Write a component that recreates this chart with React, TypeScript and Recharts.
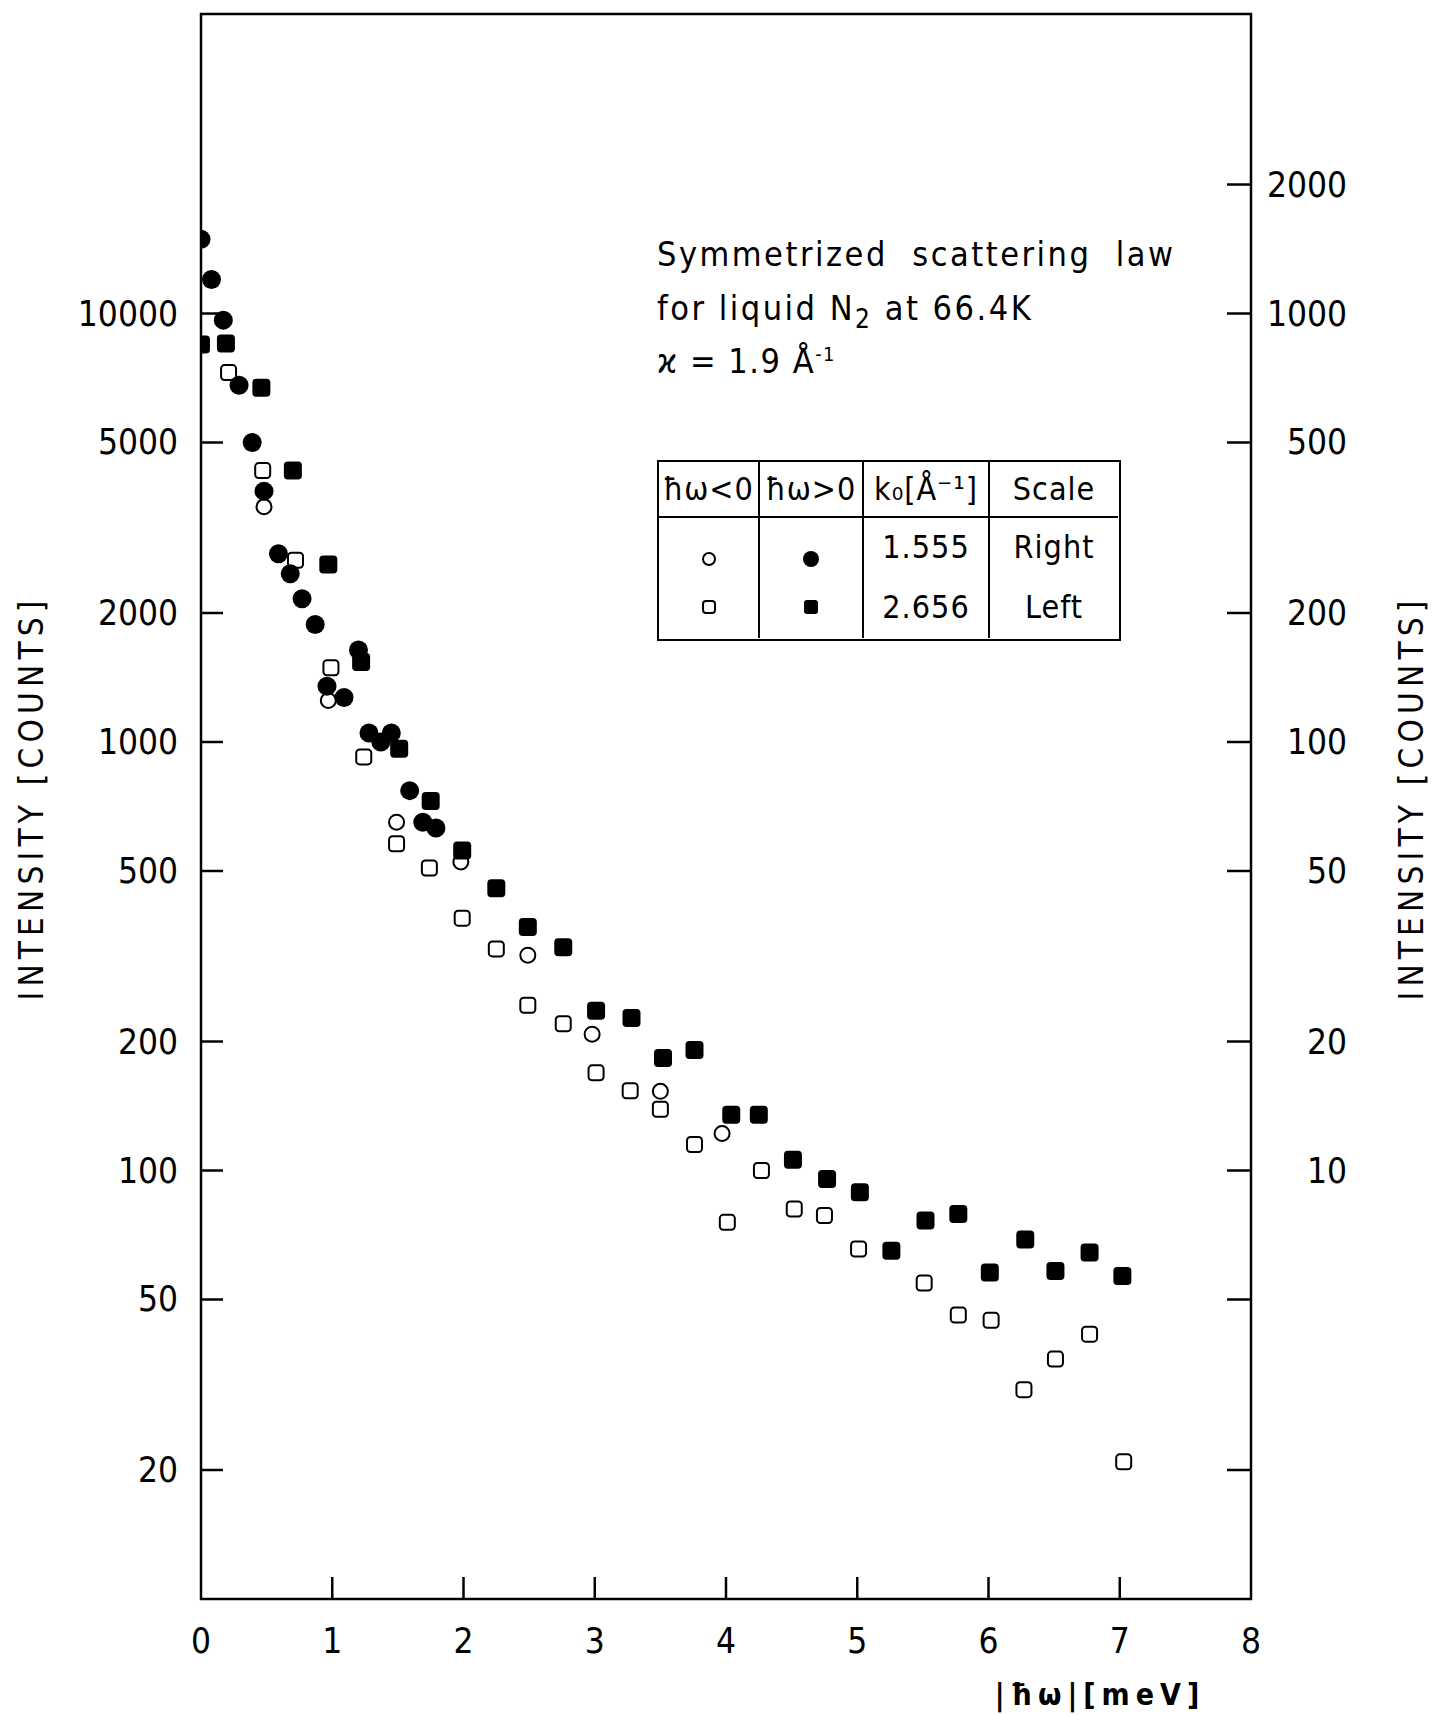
import { ReferenceArea, Scatter, ScatterChart, XAxis, YAxis } from "recharts";

// k0 = 1.555 Å⁻¹, read on the right-hand scale
const gainCircles: [number, number][] = [
  [0, 1490], [0.08, 1200], [0.17, 965], [0.29, 680], [0.39, 500], [0.48, 385],
  [0.59, 275], [0.68, 247], [0.77, 216], [0.87, 188], [0.96, 135], [1.09, 127],
  [1.2, 164], [1.28, 105], [1.37, 100], [1.45, 105], [1.59, 77], [1.69, 65], [1.79, 63],
];
const lossCircles: [number, number][] = [
  [0, 1490], [0.48, 354], [0.97, 125], [1.49, 65], [1.98, 52.5], [2.49, 31.8],
  [2.98, 20.8], [3.5, 15.3], [3.97, 12.2],
];

// k0 = 2.656 Å⁻¹, read on the left-hand scale
const gainSquares: [number, number][] = [
  [0, 8470], [0.19, 8510], [0.46, 6710], [0.7, 4300], [0.97, 2594], [1.22, 1538],
  [1.51, 964], [1.75, 728], [1.99, 558], [2.25, 456], [2.49, 370], [2.76, 332],
  [3.01, 236], [3.28, 227], [3.52, 183], [3.76, 191], [4.04, 135], [4.25, 135],
  [4.51, 106], [4.77, 95.5], [5.02, 89], [5.26, 65], [5.52, 76.4], [5.77, 79.2],
  [6.01, 57.8], [6.28, 69], [6.51, 58.3], [6.77, 64.4], [7.02, 56.7],
];
const lossSquares: [number, number][] = [
  [0, 8470], [0.21, 7280], [0.47, 4300], [0.72, 2655], [0.99, 1490], [1.24, 923],
  [1.49, 579], [1.74, 508], [1.99, 388], [2.25, 329], [2.49, 243], [2.76, 220],
  [3.01, 169], [3.27, 153.5], [3.5, 139], [3.76, 115], [4.01, 75.7], [4.27, 100],
  [4.52, 81.3], [4.75, 78.5], [5.01, 65.6], [5.51, 54.6], [5.77, 46], [6.02, 44.7],
  [6.27, 30.8], [6.51, 36.3], [6.77, 41.5], [7.03, 20.9],
];

const xTicks = [0, 1, 2, 3, 4, 5, 6, 7, 8];
const leftTicks = [20, 50, 100, 200, 500, 1000, 2000, 5000, 10000];
const rightTicks = [2, 5, 10, 20, 50, 100, 200, 500, 1000, 2000];
const rightLabelFrom = 10;

const FONT = '"DejaVu Sans", "Liberation Sans", sans-serif';
const textStyle = { fontStretch: "condensed" as const };

const toPoints = (rows: [number, number][]) => rows.map(([x, y]) => ({ x, y }));

function LeftTick({ x, y, payload }: any) {
  return (
    <g>
      <line x1={x} y1={y} x2={x + 22} y2={y} stroke="#000" strokeWidth={2.5} />
      <text x={x - 23} y={y} textAnchor="end" dominantBaseline="central"
        fontSize={35} fontFamily={FONT} style={textStyle} fill="#000">
        {payload.value}
      </text>
    </g>
  );
}

function RightTick({ x, y, payload }: any) {
  return (
    <g>
      <line x1={x} y1={y} x2={x - 24} y2={y} stroke="#000" strokeWidth={2.5} />
      {payload.value >= rightLabelFrom ? (
        <text x={x + 96} y={y} textAnchor="end" dominantBaseline="central"
          fontSize={35} fontFamily={FONT} style={textStyle} fill="#000">
          {payload.value}
        </text>
      ) : null}
    </g>
  );
}

function BottomTick({ x, y, payload }: any) {
  return (
    <g>
      {payload.value > 0 && payload.value < 8 ? (
        <line x1={x} y1={y} x2={x} y2={y - 22} stroke="#000" strokeWidth={2.5} />
      ) : null}
      <text x={x} y={y + 42} textAnchor="middle" dominantBaseline="central"
        fontSize={35} fontFamily={FONT} style={textStyle} fill="#000">
        {payload.value}
      </text>
    </g>
  );
}

const FilledCircle = ({ cx, cy }: any) => <circle cx={cx} cy={cy} r={9.5} fill="#000" />;
const OpenCircle = ({ cx, cy }: any) => (
  <circle cx={cx} cy={cy} r={7.5} fill="#fff" stroke="#000" strokeWidth={2} />
);
const FilledSquare = ({ cx, cy }: any) => (
  <rect x={cx - 9} y={cy - 9} width={18} height={18} rx={4} fill="#000" />
);
const OpenSquare = ({ cx, cy }: any) => (
  <rect x={cx - 7.5} y={cy - 7.5} width={15} height={15} rx={3.5} fill="#fff" stroke="#000" strokeWidth={2} />
);

function Marker({ kind }: { kind: "oc" | "fc" | "os" | "fs" }) {
  return (
    <svg width={24} height={24} style={{ display: "block", margin: "0 auto" }}>
      {kind === "oc" && <circle cx={12} cy={12} r={6} fill="#fff" stroke="#000" strokeWidth={2} />}
      {kind === "fc" && <circle cx={12} cy={12} r={8} fill="#000" />}
      {kind === "os" && <rect x={6} y={6} width={12} height={12} rx={3} fill="#fff" stroke="#000" strokeWidth={2} />}
      {kind === "fs" && <rect x={5} y={5} width={14} height={14} rx={3} fill="#000" />}
    </svg>
  );
}

const cell: React.CSSProperties = {
  display: "flex",
  alignItems: "center",
  justifyContent: "center",
  borderRight: "2.5px solid #000",
  boxSizing: "border-box",
};

const noteLine: React.CSSProperties = {
  position: "absolute",
  left: 657,
  height: 40,
  lineHeight: "40px",
  fontSize: 34,
  letterSpacing: 2.5,
  whiteSpace: "nowrap",
};

const axisTitle: React.CSSProperties = {
  position: "absolute",
  top: 798,
  transform: "translate(-50%, -50%) rotate(-90deg)",
  whiteSpace: "nowrap",
  fontSize: 33,
  letterSpacing: 5.2,
};

export default function App() {
  const headers = ["ħω<0", "ħω>0", "k₀[Å⁻¹]", "Scale"];
  return (
    <div
      style={{
        position: "absolute",
        left: 0,
        top: 0,
        width: 1434,
        height: 1715,
        background: "#fff",
        fontFamily: FONT,
        fontStretch: "condensed",
        color: "#000",
      }}
    >
      <ScatterChart width={1434} height={1715} margin={{ top: 14, right: 0, bottom: 0, left: 0 }}>
        <XAxis
          type="number"
          dataKey="x"
          domain={[0, 8]}
          ticks={xTicks}
          interval={0}
          height={116}
          tickSize={0}
          tickMargin={0}
          axisLine={false}
          tick={(p: any) => <BottomTick {...p} />}
          allowDataOverflow
        />
        <YAxis
          yAxisId="left"
          orientation="left"
          type="number"
          dataKey="y"
          scale="log"
          domain={[10, 50000]}
          ticks={leftTicks}
          interval={0}
          width={201}
          tickSize={0}
          tickMargin={0}
          axisLine={false}
          tick={(p: any) => <LeftTick {...p} />}
          allowDataOverflow
        />
        <YAxis
          yAxisId="right"
          orientation="right"
          type="number"
          dataKey="y"
          scale="log"
          domain={[1, 5000]}
          ticks={rightTicks}
          interval={0}
          width={183}
          tickSize={0}
          tickMargin={0}
          axisLine={false}
          tick={(p: any) => <RightTick {...p} />}
          allowDataOverflow
        />
        <ReferenceArea
          yAxisId="left"
          x1={0}
          x2={8}
          y1={10}
          y2={50000}
          fill="none"
          stroke="#000"
          strokeWidth={2.5}
          ifOverflow="visible"
        />
        <Scatter name="ħω<0, k₀=2.656" yAxisId="left" data={toPoints(lossSquares)}
          shape={(p: any) => <OpenSquare {...p} />} isAnimationActive={false} />
        <Scatter name="ħω<0, k₀=1.555" yAxisId="right" data={toPoints(lossCircles)}
          shape={(p: any) => <OpenCircle {...p} />} isAnimationActive={false} />
        <Scatter name="ħω>0, k₀=2.656" yAxisId="left" data={toPoints(gainSquares)}
          shape={(p: any) => <FilledSquare {...p} />} isAnimationActive={false} />
        <Scatter name="ħω>0, k₀=1.555" yAxisId="right" data={toPoints(gainCircles)}
          shape={(p: any) => <FilledCircle {...p} />} isAnimationActive={false} />
      </ScatterChart>

      {/* axis titles */}
      <div style={{ ...axisTitle, left: 31 }}>INTENSITY [COUNTS]</div>
      <div style={{ ...axisTitle, left: 1411 }}>INTENSITY [COUNTS]</div>
      <div style={{ position: "absolute", left: 1100, top: 1694, transform: "translate(-50%, -50%)", whiteSpace: "nowrap", fontSize: 30, fontWeight: 700, letterSpacing: 6 }}>
        |ħω|[meV]
      </div>

      {/* annotation */}
      <div style={{ ...noteLine, top: 234 }}>Symmetrized&nbsp; scattering&nbsp; law</div>
      <div style={{ ...noteLine, top: 288 }}>
        for liquid N<sub style={{ fontSize: 26, lineHeight: 0 }}>2</sub> at 66.4K
      </div>
      <div style={{ ...noteLine, top: 341, letterSpacing: 1.5 }}>
        ϰ = 1.9 Å<sup style={{ fontSize: 20, lineHeight: 0 }}>-1</sup>
      </div>

      {/* symbol table */}
      <div
        style={{
          position: "absolute",
          left: 657,
          top: 460,
          width: 464,
          height: 181,
          border: "2.5px solid #000",
          boxSizing: "border-box",
          display: "grid",
          gridTemplateColumns: "101px 104px 126px 128px",
          gridTemplateRows: "56px 57px 63px",
          fontSize: 32,
          letterSpacing: 1,
        }}
      >
        {headers.map((h, i) => (
          <div key={h} style={{ ...cell, borderBottom: "2.5px solid #000", borderRight: i === 3 ? "none" : cell.borderRight }}>
            {h}
          </div>
        ))}
        <div style={{ ...cell, paddingTop: 24 }}><Marker kind="oc" /></div>
        <div style={{ ...cell, paddingTop: 24 }}><Marker kind="fc" /></div>
        <div style={cell}>1.555</div>
        <div style={{ ...cell, borderRight: "none" }}>Right</div>
        <div style={cell}><Marker kind="os" /></div>
        <div style={cell}><Marker kind="fs" /></div>
        <div style={cell}>2.656</div>
        <div style={{ ...cell, borderRight: "none" }}>Left</div>
      </div>
    </div>
  );
}
